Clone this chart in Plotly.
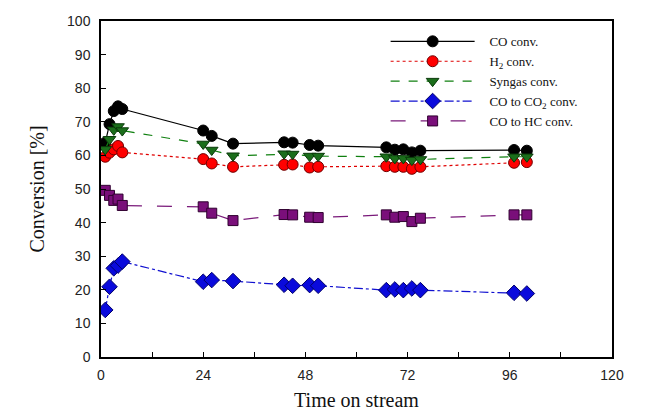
import plotly.graph_objects as go

time_h = [1, 2, 3, 4, 5, 24, 26, 31, 43, 45, 49, 51, 67, 69, 71, 73, 75, 97, 100]
co_conv = [63.8, 69.3, 73.2, 74.6, 73.8, 67.4, 65.8, 63.5, 63.9, 63.8, 63.1, 62.9,
           62.4, 61.7, 61.8, 60.9, 61.4, 61.6, 61.4]
h2_conv = [59.6, 60.8, 61.8, 62.8, 60.9, 58.9, 57.6, 56.6, 57.2, 57.3, 56.4, 56.6,
           56.8, 56.6, 56.6, 56.0, 56.6, 57.8, 58.0]
syngas_conv = [61.8, 64.8, 67.6, 68.6, 67.4, 63.4, 61.6, 59.9, 60.5, 60.4, 59.8, 59.8,
               59.6, 59.1, 59.1, 58.6, 58.8, 59.6, 59.6]
co2_conv = [14.0, 20.9, 26.4, 27.2, 28.4, 22.4, 22.9, 22.6, 21.5, 21.2, 21.4, 21.2,
            19.9, 20.1, 19.9, 20.4, 19.9, 19.1, 18.9]
hc_conv = [49.6, 48.1, 46.6, 47.0, 45.1, 44.7, 42.8, 40.6, 42.4, 42.3, 41.6, 41.5,
           42.3, 41.6, 41.8, 40.3, 41.3, 42.3, 42.3]

x_ticks = [0, 24, 48, 72, 96, 120]
y_ticks = [0, 10, 20, 30, 40, 50, 60, 70, 80, 90, 100]

series_names = ["CO conv.", "H<sub>2</sub> conv.", "Syngas conv.",
                "CO to CO<sub>2</sub> conv.", "CO to HC conv."]
series_values = [co_conv, h2_conv, syngas_conv, co2_conv, hc_conv]

styles = [
    ("#000000", "solid", "circle", "#000000", "#000000", 11),
    ("#e00000", "dot", "circle", "#ff0000", "#700000", 11),
    ("#108010", "dash", "triangle-down", "#1b6e1b", "#0a3a0a", 11),
    ("#1010d0", "dashdot", "diamond", "#0a0adc", "#00006a", 12),
    ("#7a1a7a", "longdash", "square", "#7a0f7a", "#300030", 10),
]

pad = "\u00a0\u00a0\u00a0"

fig = go.Figure()
for name, vals, (lcolor, dash, symbol, fill, outline, size) in zip(series_names, series_values, styles):
    fig.add_trace(go.Scatter(
        x=time_h, y=vals, name=pad + name, mode="lines+markers",
        line=dict(color=lcolor, width=1.2, dash=dash),
        marker=dict(symbol=symbol, size=size, color=fill,
                    line=dict(color=outline, width=1)),
    ))

fig.update_layout(
    width=664, height=420,
    margin=dict(l=93, r=60, t=13, b=71),
    paper_bgcolor="white", plot_bgcolor="white",
    showlegend=True,
    legend=dict(
        x=0.557, y=0.984, xanchor="left", yanchor="top",
        bgcolor="rgba(0,0,0,0)", borderwidth=0,
        font=dict(family="Liberation Serif", size=13, color="#111111"),
        itemwidth=84, tracegroupgap=0,
    ),
    xaxis=dict(
        range=[0, 120], tickvals=x_ticks, ticktext=[str(v) for v in x_ticks],
        showline=True, linecolor="black", linewidth=1.5, mirror=True,
        ticks="inside", ticklen=5, tickcolor="black", tickwidth=1,
        minor=dict(ticks="inside", dtick=12, tick0=0, ticklen=5, tickcolor="black", tickwidth=1),
        showgrid=False, zeroline=False, automargin=False,
        tickfont=dict(family="Liberation Sans", size=14, color="#222222"),
        ticklabelstandoff=4,
        title=dict(text="Time on stream", standoff=11,
                   font=dict(family="Liberation Serif", size=20, color="#111111")),
    ),
    yaxis=dict(
        range=[0, 100], tickvals=y_ticks, ticktext=[str(v) for v in y_ticks],
        showline=True, linecolor="black", linewidth=1.5, mirror=True,
        ticks="inside", ticklen=5, tickcolor="black", tickwidth=1,
        showgrid=False, zeroline=False, automargin=False,
        tickfont=dict(family="Liberation Sans", size=14, color="#222222"),
        ticklabelstandoff=6,
        title=dict(text="Conversion [%]", standoff=17,
                   font=dict(family="Liberation Serif", size=20, color="#111111")),
    ),
)

fig.write_html("out.html")
